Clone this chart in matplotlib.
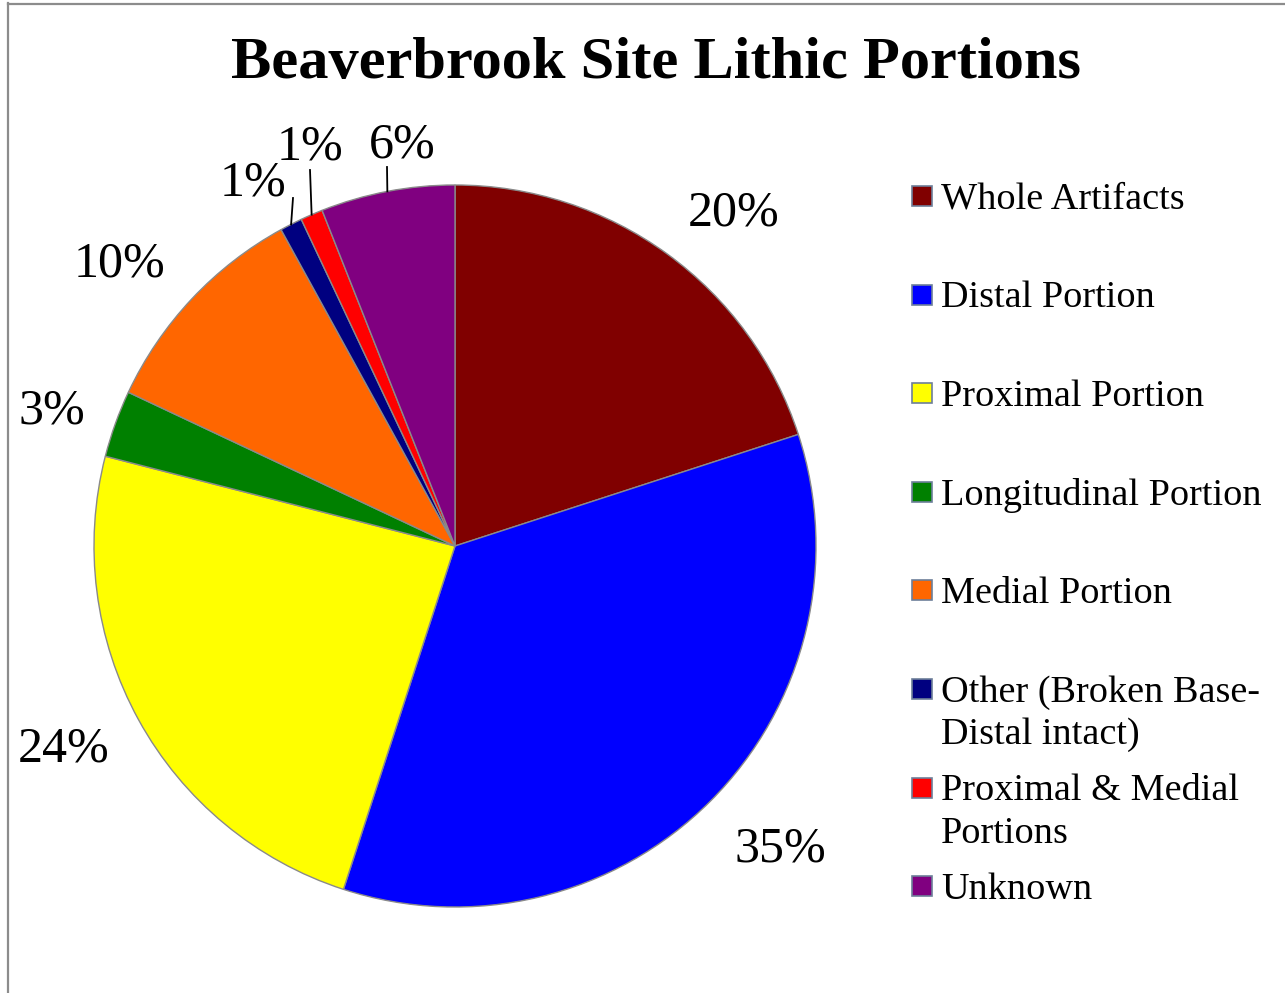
import numpy as np
import matplotlib.pyplot as plt
from matplotlib.patches import Rectangle
from matplotlib.lines import Line2D

CATEGORIES = ["Whole Artifacts", "Distal Portion", "Proximal Portion",
              "Longitudinal Portion", "Medial Portion",
              "Other (Broken Base-\nDistal intact)", "Proximal & Medial\nPortions",
              "Unknown"]
PERCENTS = [20, 35, 24, 3, 10, 1, 1, 6]
COLORS = ["#800000", "#0000ff", "#ffff00", "#008000", "#ff6600",
          "#000080", "#ff0000", "#800080"]
TITLE = "Beaverbrook Site Lithic Portions"

W, H = 1285, 993
CX, CY, R = 455, 546, 361
FONT = "Liberation Serif"

# where the data labels sit (pixel coords, y down) - same order as PERCENTS
LABEL_POS = [(734, 213), (780, 849), (64, 749), (52, 411), (120, 264),
             (253, 183), (310, 147), (402, 145)]
# thin slices get a leader line up to the label
LEADER_TOP = {5: (293, 198), 6: (310, 170), 7: (387, 167)}


def slice_point(frac, dist):
    # frac of the way round clockwise from 12 o'clock, in pixel coords (y down)
    a = 2 * np.pi * frac
    return CX + dist * np.sin(a), CY - dist * np.cos(a)


def main():
    fig = plt.figure(figsize=(W / 100, H / 100), dpi=100)
    ax = fig.add_axes([0, 0, 1, 1])

    # y axis runs downwards, so counterclock in data = clockwise on screen
    ax.pie(PERCENTS, colors=COLORS, startangle=-90, counterclock=True,
           center=(CX, CY), radius=R,
           wedgeprops=dict(edgecolor="#8a8a8a", linewidth=1))
    ax.set_xlim(0, W)
    ax.set_ylim(H, 0)
    ax.set_aspect("auto")
    ax.axis("off")

    total = float(sum(PERCENTS))
    cum = 0.0
    for i, v in enumerate(PERCENTS):
        mid = (cum + v / 2.0) / total
        cum += v
        if i in LEADER_TOP:
            ex, ey = slice_point(mid, R)
            tx, ty = LEADER_TOP[i]
            ax.plot([ex, tx], [ey, ty], color="black", lw=1.3)
        lx, ly = LABEL_POS[i]
        ax.text(lx, ly, "%d%%" % v, ha="center", va="center", fontsize=36,
                family=FONT)

    ax.text(656, 64, TITLE, ha="center", va="center", fontsize=43.5,
            fontweight="bold", family=FONT)

    # legend drawn by hand so the boxes line up with the first text line
    y0 = 196
    step = 98.6
    for i, (lab, c) in enumerate(zip(CATEGORIES, COLORS)):
        y = y0 + i * step
        ax.add_patch(Rectangle((912, y - 10), 20, 20, facecolor=c,
                               edgecolor="#6d7f99", lw=1.2))
        ax.text(941, y - 14, lab, ha="left", va="top", fontsize=27.5,
                family=FONT, linespacing=1.3)

    # frame of the chart area, cut off at right and bottom
    fig.add_artist(Line2D([7.5 / W, 7.5 / W], [0, 1 - 3 / H],
                          color="#8c8c8c", lw=1.6))
    fig.add_artist(Line2D([7.5 / W, 1], [1 - 3.5 / H, 1 - 3.5 / H],
                          color="#8c8c8c", lw=1.6))

    fig.savefig("out.png", dpi=100)


if __name__ == '__main__':
    main()
